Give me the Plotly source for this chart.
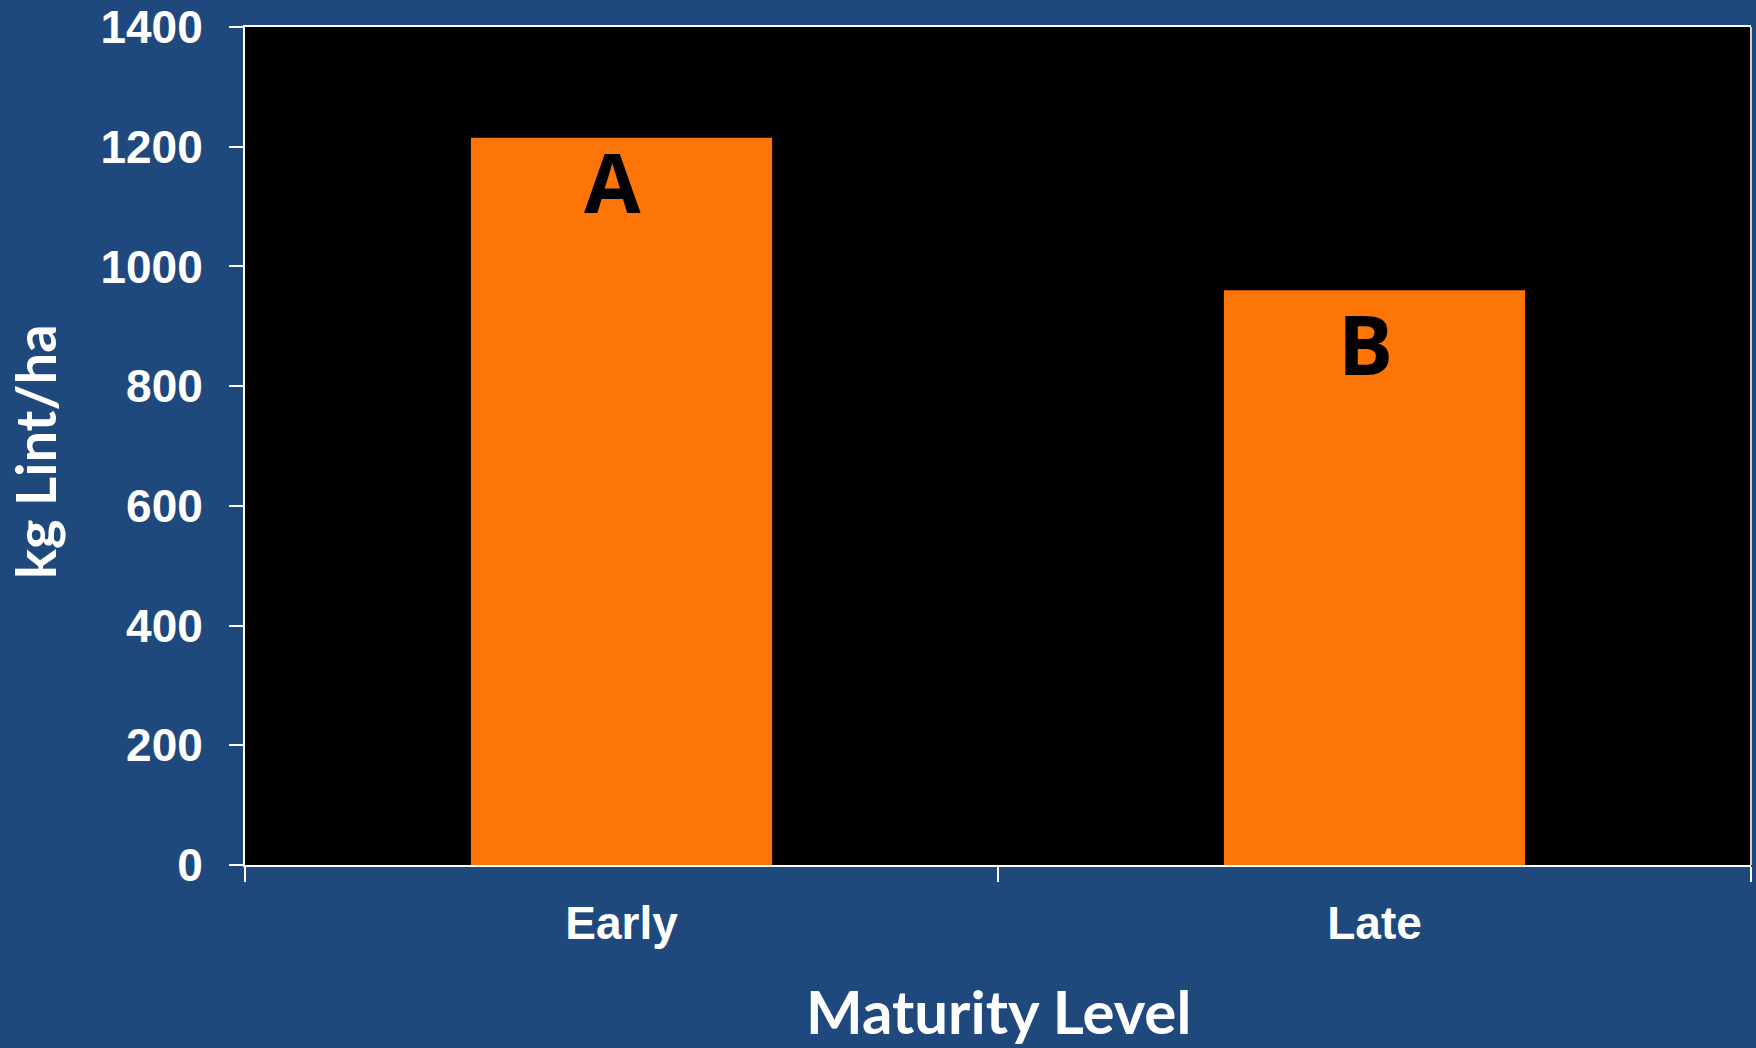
import plotly.graph_objects as go

# Lint yield by maturity level
categories = ["Early", "Late"]
yield_kg_ha = [1215, 960]
group_letters = ["A", "B"]
y_ticks = [0, 200, 400, 600, 800, 1000, 1200, 1400]

BG = "#1F497D"
BAR = "#FD7506"
W, H = 1756, 1048
ML, MR, MT, MB = 245, 5, 27, 183
PW, PH = W - ML - MR, H - MT - MB

fig = go.Figure()
fig.add_trace(go.Bar(
    x=categories,
    y=yield_kg_ha,
    marker=dict(color=BAR, line=dict(width=0)),
    width=0.4,
    showlegend=False,
    hoverinfo="x+y",
))

# significance letters inside the bars
letter_shift = [15, 5]
for cat, val, letter, shift in zip(categories, yield_kg_ha, group_letters, letter_shift):
    fig.add_annotation(
        x=cat, y=val, xref="x", yref="y",
        text=letter, showarrow=False,
        yanchor="top", xshift=-9, yshift=shift,
        font=dict(family="Open Sans", size=82, color="black", weight="bold"),
    )

# axis titles
fig.add_annotation(
    xref="paper", yref="paper",
    x=0.5, y=-MB / PH,
    text="Maturity Level", showarrow=False,
    xanchor="center", yanchor="bottom", borderpad=0,
    font=dict(family="Lato", size=60, color="white", weight="bold"),
)
fig.add_annotation(
    xref="paper", yref="paper",
    x=-(ML - 34) / PW, y=(MT + PH - 452) / PH,
    text="kg Lint/ha", showarrow=False, textangle=-90,
    xanchor="center", yanchor="middle",
    font=dict(family="Lato", size=56, color="white", weight="bold"),
)

# light right-hand frame edge
fig.add_shape(
    type="line", xref="paper", yref="paper",
    x0=1, x1=1, y0=0, y1=1,
    line=dict(color="#D0D0D0", width=2),
)

fig.update_xaxes(
    showline=True, linecolor="white", linewidth=2, mirror=True,
    ticks="outside", tickson="boundaries", ticklen=15, tickwidth=2, tickcolor="white",
    tickfont=dict(family="Liberation Sans", size=46, color="white", weight="bold"),
    showgrid=False, zeroline=False, automargin=False,
    ticklabelstandoff=17,
)
fig.update_yaxes(
    range=[0, 1400], tickvals=y_ticks,
    showline=True, linecolor="white", linewidth=2, mirror=False,
    ticks="outside", ticklen=14, tickwidth=2, tickcolor="white",
    tickfont=dict(family="Liberation Sans", size=46, color="white", weight="bold"),
    showgrid=False, zeroline=False, automargin=False,
    ticklabelstandoff=17,
)

fig.update_layout(
    width=W, height=H,
    margin=dict(l=ML, r=MR, t=MT, b=MB, pad=0),
    paper_bgcolor=BG, plot_bgcolor="black",
    bargap=0.6,
)

fig.write_html("out.html")
